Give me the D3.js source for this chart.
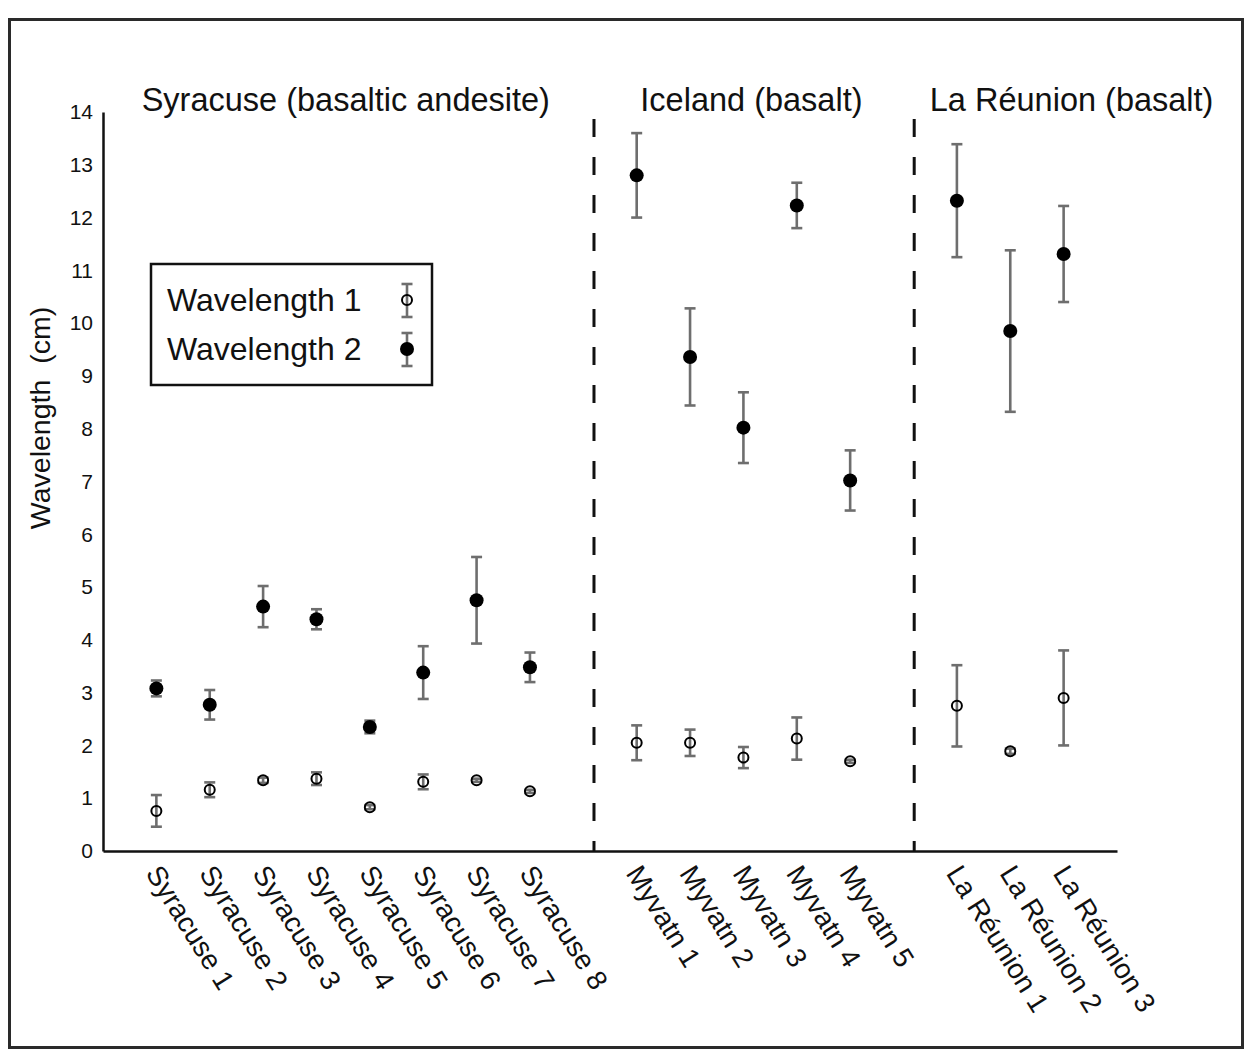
<!DOCTYPE html>
<html>
<head>
<meta charset="utf-8">
<script src="https://cdn.jsdelivr.net/npm/d3@7"></script>
<style>
  html, body { margin: 0; padding: 0; background: #fff; }
  text { font-family: "Liberation Sans", Arial, sans-serif; fill: #111; }
</style>
</head>
<body>
<script>
// Sample groups and sample names, in plotting order
const groups = ["Syracuse (basaltic andesite)", "Iceland (basalt)", "La Réunion (basalt)"];
const groupSizes = [8, 5, 3];
const categories = [
  "Syracuse 1", "Syracuse 2", "Syracuse 3", "Syracuse 4",
  "Syracuse 5", "Syracuse 6", "Syracuse 7", "Syracuse 8",
  "Myvatn 1", "Myvatn 2", "Myvatn 3", "Myvatn 4", "Myvatn 5",
  "La Réunion 1", "La Réunion 2", "La Réunion 3"
];

// Wavelength 1 (cm): mean and error
const wave1 = [0.76, 1.16, 1.34, 1.37, 0.83, 1.31, 1.34, 1.13,
               2.05, 2.05, 1.77, 2.13, 1.70,
               2.75, 1.89, 2.90];
const wave1Err = [0.30, 0.14, 0.05, 0.12, 0.04, 0.14, 0.03, 0.03,
                  0.33, 0.25, 0.20, 0.40, 0.03,
                  0.77, 0.05, 0.90];

// Wavelength 2 (cm): mean and error
const wave2 = [3.08, 2.77, 4.63, 4.39, 2.35, 3.38, 4.75, 3.48,
               12.80, 9.36, 8.02, 12.23, 7.02,
               12.32, 9.85, 11.31];
const wave2Err = [0.15, 0.28, 0.39, 0.19, 0.12, 0.50, 0.82, 0.28,
                  0.80, 0.92, 0.67, 0.43, 0.57,
                  1.07, 1.53, 0.91];

const yTicks = [0, 1, 2, 3, 4, 5, 6, 7, 8, 9, 10, 11, 12, 13, 14];
const seriesNames = ["Wavelength 1", "Wavelength 2"];

// ---- layout ----
const W = 1250, H = 1053;
const plot = { left: 103, right: 1117, top: 112, bottom: 851 };
const errColor = "#6e6e6e";

// Each group takes one slot per sample plus one spacer slot after it
const slotOf = [];
let slot = 1;
groupSizes.forEach(n => {
  for (let i = 0; i < n; i++) slotOf.push(slot++);
  slot++;
});
const slotCount = slot - 1;
const spacerSlots = [];
{
  let s = 0;
  groupSizes.slice(0, -1).forEach(n => { s += n + 1; spacerSlots.push(s); });
}

const x = d3.scaleLinear().domain([0, slotCount]).range([plot.left, plot.right]);
const y = d3.scaleLinear().domain([0, 14]).range([plot.bottom, plot.top]);

const svg = d3.select("body").append("svg")
  .attr("width", W).attr("height", H);

svg.append("rect").attr("width", W).attr("height", H).attr("fill", "#fff");

// outer frame
svg.append("rect")
  .attr("x", 9.5).attr("y", 19.5)
  .attr("width", 1233).attr("height", 1028)
  .attr("fill", "none").attr("stroke", "#2a2a2a").attr("stroke-width", 3);

// group separators (dashed), sitting just right of each spacer slot
const sepShift = 0.2;
svg.append("g").selectAll("line").data(spacerSlots).join("line")
  .attr("x1", d => x(d + sepShift)).attr("x2", d => x(d + sepShift))
  .attr("y1", plot.bottom).attr("y2", plot.top + 6)
  .attr("stroke", "#111").attr("stroke-width", 3)
  .attr("stroke-dasharray", "18,20").attr("stroke-dashoffset", 8);

// y axis
const yAxis = svg.append("g")
  .attr("transform", `translate(${plot.left},0)`)
  .call(d3.axisLeft(y).tickValues(yTicks).tickSize(0).tickSizeOuter(0).tickPadding(10));
yAxis.select(".domain").attr("stroke", "#111").attr("stroke-width", 2.5);
yAxis.selectAll(".tick text")
  .style("font-family", "Liberation Sans, Arial, sans-serif")
  .attr("font-size", 21).attr("fill", "#111");

// x axis line
const xAxis = svg.append("g")
  .attr("transform", `translate(0,${plot.bottom})`)
  .call(d3.axisBottom(x).tickValues([]).tickSizeOuter(0));
xAxis.select(".domain").attr("stroke", "#111").attr("stroke-width", 2.5);

// rotated sample labels
const labelAngle = 58;
svg.append("g").selectAll("text").data(categories).join("text")
  .attr("transform", (d, i) => `translate(${x(slotOf[i]) - 3},${plot.bottom + 17}) rotate(${labelAngle})`)
  .attr("text-anchor", "start")
  .attr("dy", "0.35em")
  .attr("font-size", 28)
  .text(d => d);

// y axis title
svg.append("text")
  .attr("transform", `translate(50,418) rotate(-90)`)
  .attr("text-anchor", "middle")
  .attr("font-size", 28.5)
  .style("white-space", "pre")
  .text("Wavelength  (cm)");

// group titles
const titleSlots = [4.55, 12.15, 18.15];
svg.append("g").selectAll("text").data(groups).join("text")
  .attr("x", (d, i) => x(titleSlots[i]))
  .attr("y", 111)
  .attr("text-anchor", "middle")
  .attr("font-size", 32.5)
  .text(d => d);

// error bars
function errorBars(vals, errs, g) {
  const cap = 5.5;
  const sel = g.selectAll("g").data(vals).join("g");
  sel.append("line")
    .attr("x1", (d, i) => x(slotOf[i])).attr("x2", (d, i) => x(slotOf[i]))
    .attr("y1", (d, i) => y(d - errs[i])).attr("y2", (d, i) => y(d + errs[i]));
  sel.append("line")
    .attr("x1", (d, i) => x(slotOf[i]) - cap).attr("x2", (d, i) => x(slotOf[i]) + cap)
    .attr("y1", (d, i) => y(d - errs[i])).attr("y2", (d, i) => y(d - errs[i]));
  sel.append("line")
    .attr("x1", (d, i) => x(slotOf[i]) - cap).attr("x2", (d, i) => x(slotOf[i]) + cap)
    .attr("y1", (d, i) => y(d + errs[i])).attr("y2", (d, i) => y(d + errs[i]));
  g.attr("stroke", errColor).attr("stroke-width", 2.6);
}
errorBars(wave2, wave2Err, svg.append("g"));
errorBars(wave1, wave1Err, svg.append("g"));

// Wavelength 2: filled markers
svg.append("g").selectAll("circle").data(wave2).join("circle")
  .attr("cx", (d, i) => x(slotOf[i])).attr("cy", d => y(d))
  .attr("r", 7).attr("fill", "#000");

// Wavelength 1: hollow markers
svg.append("g").selectAll("circle").data(wave1).join("circle")
  .attr("cx", (d, i) => x(slotOf[i])).attr("cy", d => y(d))
  .attr("r", 5).attr("fill", "none").attr("stroke", "#000").attr("stroke-width", 2);

// legend
const legend = svg.append("g");
legend.append("rect")
  .attr("x", 151).attr("y", 264).attr("width", 281).attr("height", 121)
  .attr("fill", "#fff").attr("stroke", "#111").attr("stroke-width", 2.5);
const legRows = [300, 349];
legend.selectAll("text.lab").data(seriesNames).join("text")
  .attr("class", "lab")
  .attr("x", 167).attr("y", (d, i) => legRows[i] + 11)
  .attr("font-size", 32)
  .text(d => d);
const legX = 407;
legRows.forEach((ry, i) => {
  const g = legend.append("g").attr("stroke", errColor).attr("stroke-width", 2.6);
  g.append("line").attr("x1", legX).attr("x2", legX).attr("y1", ry - 16).attr("y2", ry + 17);
  g.append("line").attr("x1", legX - 5.5).attr("x2", legX + 5.5).attr("y1", ry - 16).attr("y2", ry - 16);
  g.append("line").attr("x1", legX - 5.5).attr("x2", legX + 5.5).attr("y1", ry + 17).attr("y2", ry + 17);
  if (i === 0) {
    legend.append("circle").attr("cx", legX).attr("cy", ry).attr("r", 5)
      .attr("fill", "none").attr("stroke", "#000").attr("stroke-width", 2);
  } else {
    legend.append("circle").attr("cx", legX).attr("cy", ry).attr("r", 7).attr("fill", "#000");
  }
});
</script>
</body>
</html>
